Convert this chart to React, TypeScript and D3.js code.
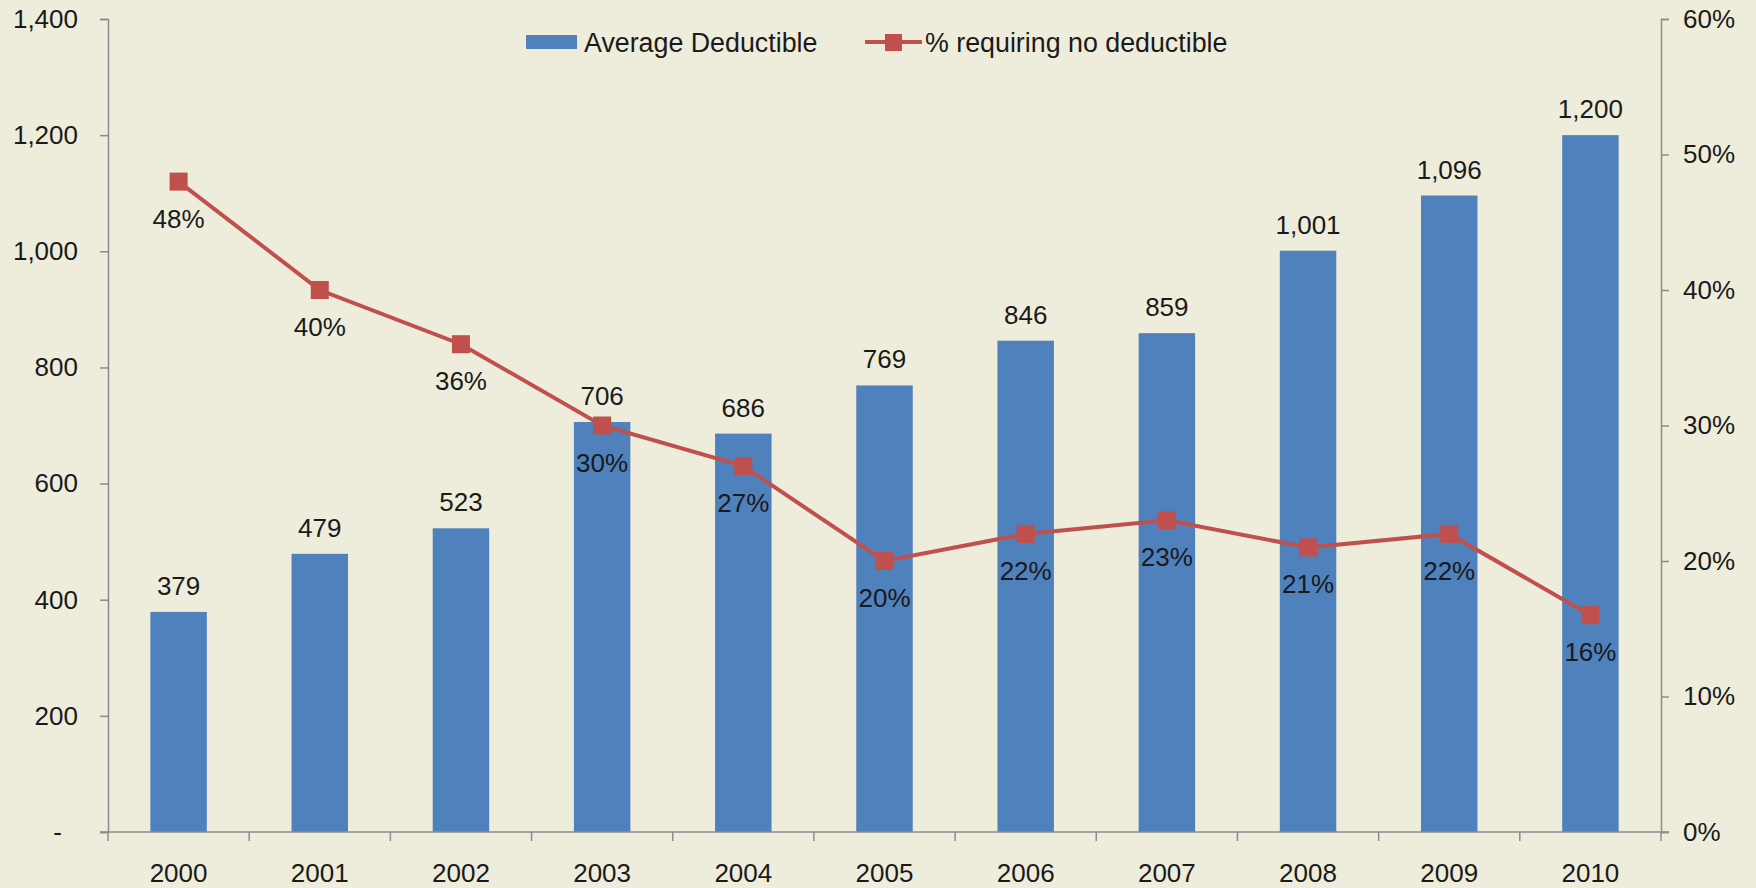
import React, { useEffect, useRef } from "react";
import * as d3 from "d3";

const years = ["2000", "2001", "2002", "2003", "2004", "2005", "2006", "2007", "2008", "2009", "2010"];
const avgDeductible = [379, 479, 523, 706, 686, 769, 846, 859, 1001, 1096, 1200];
const pctNoDeductible = [48, 40, 36, 30, 27, 20, 22, 23, 21, 22, 16];
const leftTicks = [0, 200, 400, 600, 800, 1000, 1200, 1400];
const rightTicks = [0, 10, 20, 30, 40, 50, 60];

const App: React.FC = () => {
  const svgRef = useRef<SVGSVGElement | null>(null);

  useEffect(() => {
    if (!svgRef.current) return;
    const width = 1756;
    const height = 888;
    const svg = d3.select(svgRef.current);
    svg.selectAll("*").remove();
    svg.attr("width", width).attr("height", height);

    const font = "'Liberation Sans', Arial, sans-serif";
    const fs = 26;
    const axisColor = "#8c8c8c";
    const barColor = "#4f81bd";
    const lineColor = "#c0504d";

    svg.append("rect").attr("width", width).attr("height", height).attr("fill", "#eeecda");

    const left = 108, right = 1661, top = 19, bottom = 832;

    const x = d3.scaleBand().domain(years).range([left, right]).paddingInner(0.6).paddingOuter(0.3);
    const xb = d3.scaleBand().domain(years).range([left, right]);
    const y = d3.scaleLinear().domain([0, 1400]).range([bottom, top]);
    const y2 = d3.scaleLinear().domain([0, 60]).range([bottom, top]);

    // bars
    svg.append("g").selectAll("rect").data(avgDeductible).enter().append("rect")
      .attr("x", (_, i) => x(years[i])!)
      .attr("y", d => y(d))
      .attr("width", x.bandwidth())
      .attr("height", d => bottom - y(d))
      .attr("fill", barColor);

    // left axis
    const gl = svg.append("g").attr("transform", `translate(${left},0)`)
      .call(d3.axisLeft(y).tickValues(leftTicks).tickSize(8).tickPadding(22)
        .tickFormat(d => (+d === 0 ? "-" : d3.format(",")(+d))));
    gl.selectAll("text").filter((d: any) => d === 0).attr("x", -46);

    // right axis
    svg.append("g").attr("transform", `translate(${right},0)`)
      .call(d3.axisRight(y2).tickValues(rightTicks).tickSize(8).tickPadding(14)
        .tickFormat(d => `${d}%`));

    // bottom axis with ticks at category boundaries
    const gb = svg.append("g").attr("transform", `translate(0,${bottom})`);
    gb.append("line").attr("x1", left - 8).attr("x2", right + 8).attr("stroke", axisColor).attr("stroke-width", 1.5);
    gb.selectAll("line.tk").data(d3.range(years.length + 1)).enter().append("line")
      .attr("class", "tk")
      .attr("x1", i => left + i * xb.bandwidth())
      .attr("x2", i => left + i * xb.bandwidth())
      .attr("y1", 0).attr("y2", 9)
      .attr("stroke", axisColor).attr("stroke-width", 1.5);
    gb.selectAll("text").data(years).enter().append("text")
      .attr("x", d => xb(d)! + xb.bandwidth() / 2)
      .attr("y", 50)
      .attr("text-anchor", "middle")
      .text(d => d);

    svg.selectAll(".domain, .tick line").attr("stroke", axisColor).attr("stroke-width", 1.5);
    svg.selectAll(".domain").attr("fill", "none");
    svg.selectAll("text").attr("font-family", font).attr("font-size", fs).attr("fill", "#1a1a1a");

    // bar labels
    svg.append("g").selectAll("text").data(avgDeductible).enter().append("text")
      .attr("x", (_, i) => xb(years[i])! + xb.bandwidth() / 2)
      .attr("y", d => y(d) - 17)
      .attr("text-anchor", "middle")
      .attr("font-family", font).attr("font-size", fs).attr("fill", "#1a1a1a")
      .text(d => d3.format(",")(d));

    // line
    const cx = (i: number) => xb(years[i])! + xb.bandwidth() / 2;
    const line = d3.line<number>().x((_, i) => cx(i)).y(d => y2(d));
    svg.append("path").datum(pctNoDeductible).attr("d", line)
      .attr("fill", "none").attr("stroke", lineColor).attr("stroke-width", 4);
    const ms = 18;
    svg.append("g").selectAll("rect").data(pctNoDeductible).enter().append("rect")
      .attr("x", (_, i) => cx(i) - ms / 2)
      .attr("y", d => y2(d) - ms / 2)
      .attr("width", ms).attr("height", ms)
      .attr("fill", lineColor);
    svg.append("g").selectAll("text").data(pctNoDeductible).enter().append("text")
      .attr("x", (_, i) => cx(i))
      .attr("y", d => y2(d) + 46)
      .attr("text-anchor", "middle")
      .attr("font-family", font).attr("font-size", fs).attr("fill", "#1a1a1a")
      .text(d => `${d}%`);

    // legend
    const lg = svg.append("g");
    lg.append("rect").attr("x", 526).attr("y", 35).attr("width", 51).attr("height", 14).attr("fill", barColor);
    lg.append("text").attr("x", 584).attr("y", 52).text("Average Deductible");
    lg.append("line").attr("x1", 865).attr("x2", 922).attr("y1", 42).attr("y2", 42)
      .attr("stroke", lineColor).attr("stroke-width", 4);
    lg.append("rect").attr("x", 885).attr("y", 34).attr("width", 17).attr("height", 17).attr("fill", lineColor);
    lg.append("text").attr("x", 925).attr("y", 52).text("% requiring no deductible");
    lg.selectAll("text").attr("font-family", font).attr("font-size", 26.8).attr("fill", "#1a1a1a");
  }, []);

  return <svg ref={svgRef} style={{ position: "absolute", left: 0, top: 0, display: "block" }}></svg>;
};

export default App;
